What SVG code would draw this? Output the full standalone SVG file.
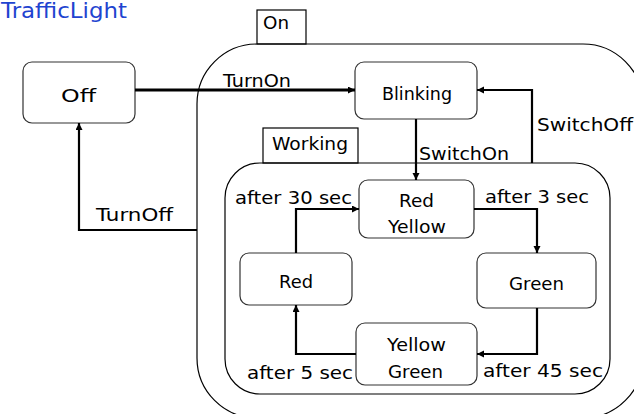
<svg xmlns="http://www.w3.org/2000/svg" width="634" height="414" viewBox="0 0 634 414">
<defs>
<marker id="ah" markerUnits="userSpaceOnUse" markerWidth="8" markerHeight="8" refX="7" refY="3.5" orient="auto">
<path d="M0,0 L7,3.5 L0,7 z" fill="#000"/>
</marker>
<style>
text{font-family:"DejaVu Sans","Liberation Sans",sans-serif;font-size:17px;fill:#000}
.title{font-size:21px;fill:#1f44d0}
.box{fill:#fff;stroke:#333;stroke-width:1.2}
.cont{fill:none;stroke:#000;stroke-width:1.2}
.tab{fill:#fff;stroke:#000;stroke-width:1.2}
.c{fill:none;stroke:#000;stroke-width:2.2;marker-end:url(#ah)}
</style>
</defs>
<rect width="634" height="414" fill="#fff"/>
<text class="title" x="1" y="18" textLength="126" lengthAdjust="spacingAndGlyphs">TrafficLight</text>

<g id="On">
<rect class="tab" x="257" y="10" width="49" height="34"/>
<text x="263" y="29" textLength="26" lengthAdjust="spacingAndGlyphs">On</text>
<rect class="cont" x="197" y="44" width="446" height="374" rx="60" ry="60"/>
</g>

<g id="Working">
<rect class="tab" x="263" y="128" width="95" height="35"/>
<text x="272" y="150" textLength="76" lengthAdjust="spacingAndGlyphs">Working</text>
<rect class="cont" x="225" y="163" width="385" height="231" rx="35" ry="35"/>
</g>

<g id="Off">
<rect class="box" x="23" y="62" width="112" height="61" rx="9"/>
<text x="61" y="102" textLength="35" lengthAdjust="spacingAndGlyphs">Off</text>
</g>

<g id="Blinking">
<rect class="box" x="355" y="62" width="122" height="57" rx="9"/>
<text x="382" y="100" textLength="70" lengthAdjust="spacingAndGlyphs">Blinking</text>
</g>

<g id="RedYellow">
<rect class="box" x="359" y="180" width="115" height="58" rx="9"/>
<text x="399" y="207" textLength="35" lengthAdjust="spacingAndGlyphs">Red</text>
<text x="388" y="233" textLength="58" lengthAdjust="spacingAndGlyphs">Yellow</text>
</g>

<g id="Green">
<rect class="box" x="477" y="253" width="119" height="55" rx="9"/>
<text x="509" y="290" textLength="55" lengthAdjust="spacingAndGlyphs">Green</text>
</g>

<g id="YellowGreen">
<rect class="box" x="356" y="323" width="121" height="62" rx="9"/>
<text x="387" y="351" textLength="59" lengthAdjust="spacingAndGlyphs">Yellow</text>
<text x="388" y="378" textLength="55" lengthAdjust="spacingAndGlyphs">Green</text>
</g>

<g id="Red">
<rect class="box" x="240" y="253" width="112" height="52" rx="9"/>
<text x="279" y="288" textLength="34" lengthAdjust="spacingAndGlyphs">Red</text>
</g>

<g id="connectors">
<path class="c" style="stroke-width:3" d="M135,90 H355"/>
<path class="c" d="M197,230 H79 V123"/>
<path class="c" d="M416,119 V180"/>
<path class="c" d="M532,163 V90 H477"/>
<path class="c" d="M474,209 H537 V253"/>
<path class="c" d="M537,308 V354 H477"/>
<path class="c" d="M356,354 H296 V305"/>
<path class="c" d="M296,253 V209 H359"/>
<text x="223" y="87" textLength="68" lengthAdjust="spacingAndGlyphs">TurnOn</text>
<text x="96" y="221" textLength="77" lengthAdjust="spacingAndGlyphs">TurnOff</text>
<text x="419" y="160" textLength="90" lengthAdjust="spacingAndGlyphs">SwitchOn</text>
<text x="537" y="131" textLength="96" lengthAdjust="spacingAndGlyphs">SwitchOff</text>
<text x="235" y="204" textLength="117" lengthAdjust="spacingAndGlyphs">after 30 sec</text>
<text x="485" y="203" textLength="104" lengthAdjust="spacingAndGlyphs">after 3 sec</text>
<text x="247" y="379" textLength="106" lengthAdjust="spacingAndGlyphs">after 5 sec</text>
<text x="483" y="377" textLength="120" lengthAdjust="spacingAndGlyphs">after 45 sec</text>
</g>
</svg>
